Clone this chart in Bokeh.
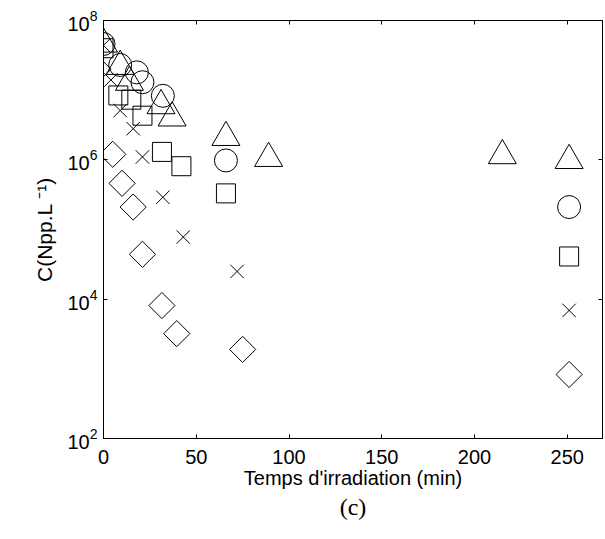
from bokeh.plotting import figure
from bokeh.models import LogAxis, LinearAxis, FixedTicker, Range1d, Title, CustomJSTickFormatter
from bokeh.embed import file_html
from bokeh.resources import INLINE
import math

# Series (time in min, concentration in Npp/L)
tri_t = [0, 9, 14, 31, 37, 66, 89, 215, 251]
tri_c = [4.6e7, 2.2e7, 1.3e7, 6.0e6, 4.0e6, 2.1e6, 1.05e6, 1.15e6, 9.8e5]

cir_t = [0, 9, 18, 21, 32, 66, 251]
cir_c = [4.6e7, 2.3e7, 1.8e7, 1.3e7, 8.3e6, 9.8e5, 2.1e5]

sq_t = [0, 8, 15, 21, 31.5, 42, 66, 251]
sq_c = [4.0e7, 8.4e6, 7.3e6, 4.3e6, 1.3e6, 8.1e5, 3.3e5, 4.1e4]

x_t = [0, 4, 9, 16, 21, 32, 43, 72, 251]
x_c = [4.4e7, 1.4e7, 5.1e6, 2.8e6, 1.1e6, 2.9e5, 7.8e4, 2.5e4, 6.9e3]

dia_t = [-3, 5, 10, 16, 21, 31.5, 39.5, 75, 251]
dia_c = [2.0e7, 1.2e6, 4.6e5, 2.1e5, 4.4e4, 8.1e3, 3.2e3, 1.9e3, 8.3e2]

x_ticks = [0, 50, 100, 150, 200, 250]
y_ticks = [1e2, 1e4, 1e6, 1e8]

FONT = "Liberation Sans"

p = figure(width=603, height=535, x_range=Range1d(0, 269), y_range=Range1d(1e2, 1e8),
           y_axis_type="log", output_backend="svg", toolbar_location=None,
           min_border_left=103, min_border_right=1, min_border_top=20, min_border_bottom=97)
p.grid.visible = False
p.outline_line_color = "black"
p.outline_line_width = 1
p.background_fill_color = "white"
p.border_fill_color = "white"

kw = dict(line_color="black", fill_color=None, line_width=1)
p.scatter(tri_t, tri_c, marker="triangle", size=28, **kw)
p.scatter(cir_t, cir_c, marker="circle", size=23, **kw)
p.scatter(sq_t, sq_c, marker="square", size=19, **kw)
p.scatter(x_t, x_c, marker="x", size=19, **kw)
p.scatter(dia_t, dia_c, marker="square", size=18.5, angle=math.pi / 4, **kw)

def style(ax):
    ax.major_tick_in = 4
    ax.major_tick_out = 0
    ax.minor_tick_in = 0
    ax.minor_tick_out = 0
    ax.axis_line_color = "black"
    ax.major_tick_line_color = "black"
    ax.major_label_text_font = FONT
    ax.major_label_text_font_size = "20px"
    ax.major_label_text_color = "black"
    ax.axis_label_text_font = FONT
    ax.axis_label_text_font_size = "20px"
    ax.axis_label_text_font_style = "normal"
    ax.axis_label_text_color = "black"

xa = p.xaxis[0]
xa.ticker = FixedTicker(ticks=x_ticks, minor_ticks=[])
style(xa)
xa.axis_label = "Temps d'irradiation (min)"
xa.major_label_standoff = 11
xa.axis_label_standoff = 0

ya = p.yaxis[0]
ya.ticker = FixedTicker(ticks=y_ticks, minor_ticks=[])
style(ya)
ya.axis_label = "C(Npp.L \u207b\u00b9)"
ya.axis_label_text_font_size = "21px"
ya.major_label_standoff = 6
ya.axis_label_standoff = 8

blank = CustomJSTickFormatter(code="return ''")
top = LinearAxis(ticker=FixedTicker(ticks=x_ticks, minor_ticks=[]), formatter=blank)
style(top)
top.major_label_standoff = 0
top.major_label_text_font_size = "1px"
p.add_layout(top, "above")

right = LogAxis(ticker=FixedTicker(ticks=y_ticks, minor_ticks=[]), formatter=blank)
style(right)
right.major_label_standoff = 0
right.major_label_text_font_size = "1px"
p.add_layout(right, "right")

p.add_layout(Title(text="(c)", align="center", text_font="Liberation Serif",
                   text_font_size="24px", text_font_style="normal", text_color="black",
                   standoff=0), "below")

open("out.html", "w").write(file_html(p, INLINE))
